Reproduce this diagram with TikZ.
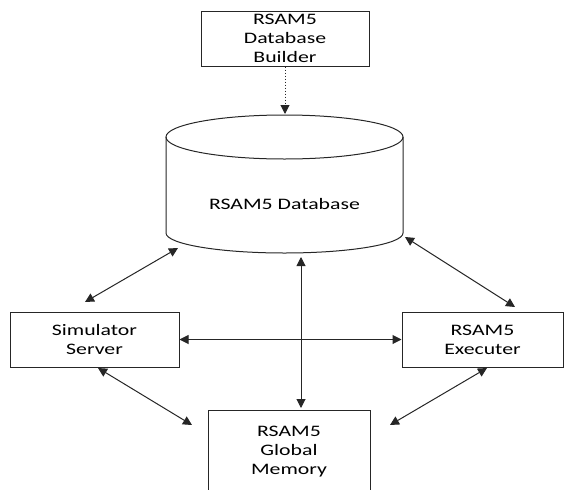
\documentclass[tikz,border=0pt]{standalone}
\usepackage{fontspec}
\setmainfont{Carlito}[FakeStretch=1.36]
\usetikzlibrary{arrows.meta,positioning}

\begin{document}
\begin{tikzpicture}[x=1pt,y=-1pt,font=\fontsize{16}{19}\selectfont,
  box/.style={draw=black!85,line width=1pt,align=center,inner sep=0pt},
  link/.style={{Triangle[length=9pt,width=9pt]}-{Triangle[length=9pt,width=9pt]},line width=1pt,draw=black!85}]
  \useasboundingbox (0,0) rectangle (565,490);
  \node[box,minimum width=168,minimum height=55] (builder) at (285,38.5) {RSAM5\\Database\\Builder};
  \node[box,minimum width=169,minimum height=55] (sim) at (94.5,339.5) {Simulator\\Server};
  \node[box,minimum width=161,minimum height=55] (exec) at (482.5,339.5) {RSAM5\\Executer};
  \node[box,minimum width=162,minimum height=84] (mem) at (289,452) {RSAM5\\Global\\Memory};
  % database cylinder
  \draw[black!85,line width=1pt] (166,137) -- (166,233) arc[start angle=180,end angle=0,x radius=118.5,y radius=20] -- (403,137);
  \draw[black!85,line width=1pt] (284.5,137) ellipse [x radius=118.5,y radius=22];
  \node (db) at (284.5,204) {RSAM5 Database};
  \coordinate (dbtop) at (285,114);
  \coordinate (dbsw) at (178,248);
  \coordinate (dbse) at (405,237);
  \coordinate (dbbot) at (301,257);
  \coordinate (simtop) at (85,302);
  \coordinate (simbot) at (98,368);
  \coordinate (exectop) at (515,307);
  \coordinate (execbot) at (487,368);
  \coordinate (memtop) at (301,408);
  \coordinate (memw) at (192,425);
  \coordinate (meme) at (390,425);
  \draw[-{Triangle[length=9pt,width=9pt]},black!85,line width=1pt,dotted] (builder.south) -- (dbtop);
  \draw[link] (simtop) -- (dbsw);
  \draw[link] (dbse) -- (exectop);
  \draw[link] (dbbot) -- (memtop);
  \draw[link] (sim.east) -- (exec.west);
  \draw[link] (simbot) -- (memw);
  \draw[link] (execbot) -- (meme);
\end{tikzpicture}
\end{document}
